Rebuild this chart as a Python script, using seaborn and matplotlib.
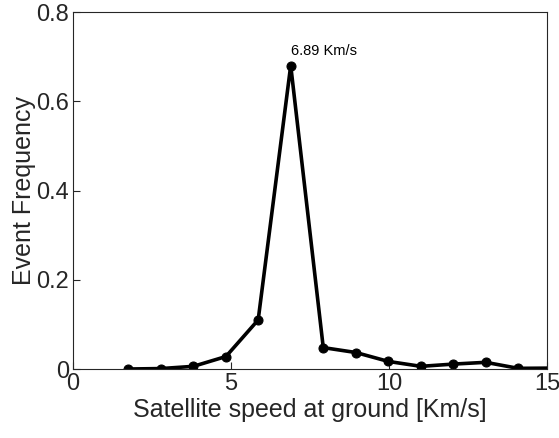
import matplotlib
matplotlib.use("Agg")
import matplotlib.pyplot as plt
import seaborn as sns
import pandas as pd

speed = [1.75, 2.78, 3.81, 4.84, 5.86, 6.89, 7.92, 8.95, 9.98, 11.01, 12.03, 13.06, 14.09, 15.12]
frequency = [0.0, 0.001, 0.006, 0.028, 0.110, 0.680, 0.048, 0.037, 0.017, 0.006, 0.011, 0.015, 0.0015, 0.002]
peak_label = "6.89 Km/s"
x_ticks = [0, 5, 10, 15]
y_ticks = [0, 0.2, 0.4, 0.6, 0.8]
y_ticklabels = ["0", "0.2", "0.4", "0.6", "0.8"]

sns.set_style("white")
plt.rcParams["font.family"] = ["Liberation Sans", "DejaVu Sans"]

df = pd.DataFrame({"speed": speed, "freq": frequency})

fig = plt.figure(figsize=(5.59, 4.38), dpi=100)
ax = fig.add_axes([0.1306, 0.1575, 0.9785 - 0.1306, 0.9726 - 0.1575])

sns.lineplot(data=df, x="speed", y="freq", ax=ax, color="black", linewidth=2.6,
             marker="o", markersize=6.5, markeredgecolor="black", markerfacecolor="black",
             sort=False, clip_on=True)

ax.set_xlim(0, 15)
ax.set_ylim(0, 0.8)
ax.set_xticks(x_ticks)
ax.set_xticklabels([str(t) for t in x_ticks])
ax.set_yticks(y_ticks)
ax.set_yticklabels(y_ticklabels)
ax.tick_params(direction="in", length=5, width=0.8, colors="#262626", labelsize=17,
               bottom=True, left=True, top=False, right=False, pad=3)
for s in ax.spines.values():
    s.set_visible(True)
    s.set_color("#262626")
    s.set_linewidth(0.8)

ax.set_xlabel("Satellite speed at ground [Km/s]", fontsize=18, color="#262626", labelpad=2)
ax.set_ylabel("Event Frequency", fontsize=18, color="#262626", labelpad=0)

peak_i = frequency.index(max(frequency))
ax.text(speed[peak_i], frequency[peak_i] + 0.033, peak_label, fontsize=10.5,
        ha="left", va="center", color="black")

fig.savefig("out.png", dpi=100)
